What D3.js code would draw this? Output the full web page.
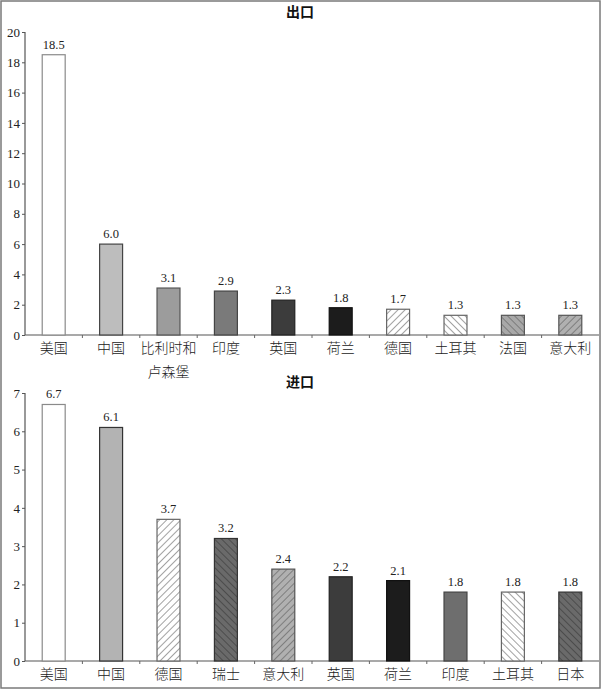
<!DOCTYPE html>
<html><head><meta charset="utf-8">
<script src="https://cdn.jsdelivr.net/npm/d3@7"></script>
<style>
html,body{margin:0;padding:0;background:#fff;}
svg{display:block;}
</style></head>
<body>
<svg id="c" width="602" height="690"></svg>
<script>
// ---- data ----
const exportTitle = "出口";
const exportCategories = ["美国","中国","比利时和卢森堡","印度","英国","荷兰","德国","土耳其","法国","意大利"];
const exportValues = [18.5, 6.0, 3.1, 2.9, 2.3, 1.8, 1.7, 1.3, 1.3, 1.3];
const exportTicks = [0,2,4,6,8,10,12,14,16,18,20];

const importTitle = "进口";
const importCategories = ["美国","中国","德国","瑞士","意大利","英国","荷兰","印度","土耳其","日本"];
const importValues = [6.7, 6.1, 3.7, 3.2, 2.4, 2.2, 2.1, 1.8, 1.8, 1.8];
const importTicks = [0,1,2,3,4,5,6,7];

// ---- styles ----
const SERIF = '"Liberation Serif","DejaVu Serif",serif';
const CJK = '"Noto Sans CJK SC","Noto Sans",sans-serif';
const exportFills = ["white","lightgray","midgray","darkgray","darker","black","hatchR","hatchL","hatchLgray","hatchRgray"];
const importFills = ["white","lightgray2","hatchR","hatchLdark","hatchRgray","darker","black","india","hatchL","hatchLdark"];

const svg = d3.select("#c");
const defs = svg.append("defs");
function hatch(id, bg, line, angle){
  const p = defs.append("pattern").attr("id", id).attr("patternUnits","userSpaceOnUse")
    .attr("width",5).attr("height",5).attr("patternTransform",`rotate(${angle})`);
  p.append("rect").attr("width",5).attr("height",5).attr("fill",bg);
  p.append("line").attr("x1",0).attr("y1",0).attr("x2",0).attr("y2",5)
    .attr("stroke",line).attr("stroke-width",1.1);
}
hatch("hR","#ffffff","#555",45);
hatch("hL","#ffffff","#555",-45);
hatch("hLg","#a8a8a8","#555",-45);
hatch("hRg","#b0b0b0","#555",45);
hatch("hLd","#6a6a6a","#333",-45);

const fillMap = {
  white:{fill:"#ffffff",stroke:"#8a8a8a"},
  lightgray:{fill:"#bdbdbd",stroke:"#444"},
  lightgray2:{fill:"#b3b3b3",stroke:"#333"},
  midgray:{fill:"#9c9c9c",stroke:"#555"},
  darkgray:{fill:"#7a7a7a",stroke:"#444"},
  india:{fill:"#6e6e6e",stroke:"#444"},
  darker:{fill:"#3c3c3c",stroke:"#222"},
  black:{fill:"#1c1c1c",stroke:"#111"},
  hatchR:{fill:"url(#hR)",stroke:"#666"},
  hatchL:{fill:"url(#hL)",stroke:"#666"},
  hatchLgray:{fill:"url(#hLg)",stroke:"#555"},
  hatchRgray:{fill:"url(#hRg)",stroke:"#555"},
  hatchLdark:{fill:"url(#hLd)",stroke:"#333"}
};

// frame
svg.append("rect").attr("x",1).attr("y",1).attr("width",599).attr("height",687)
  .attr("fill","none").attr("stroke","#7a7a7a").attr("stroke-width",1.5);

function drawChart(cfg){
  const {title, cats, vals, ticks, fills, top, bottom, titleY, labelY} = cfg;
  const x = d3.scaleBand().domain(cats).range([25,599]).paddingInner(0.6).paddingOuter(0.3);
  const y = d3.scaleLinear().domain([0, d3.max(ticks)]).range([bottom, top]);
  const g = svg.append("g");

  g.append("text").attr("x",300).attr("y",titleY).attr("font-family",CJK)
    .attr("text-anchor","middle").attr("font-size",14).attr("font-weight","bold")
    .attr("fill","#111").text(title);

  // y axis
  const ya = g.append("g").attr("transform","translate(25,0)")
    .call(d3.axisLeft(y).tickValues(ticks).tickSize(3).tickPadding(2).tickFormat(d3.format("d")));
  ya.attr("font-family",SERIF).attr("font-size",13);
  ya.select(".domain").attr("stroke","#555").attr("stroke-width",1.2).attr("d",`M0,${top}V${bottom}`);
  ya.selectAll(".tick line").attr("stroke","#555");
  ya.selectAll(".tick text").attr("fill","#222");

  // x axis baseline
  g.append("line").attr("x1",25).attr("x2",599).attr("y1",bottom).attr("y2",bottom)
    .attr("stroke","#555").attr("stroke-width",1.2);
  const step = x.step();
  const bounds = cats.map((c)=> x(c) - (step - x.bandwidth())/2).slice(1);
  g.selectAll("line.xt").data(bounds).join("line").attr("class","xt")
    .attr("x1",d=>d).attr("x2",d=>d).attr("y1",bottom).attr("y2",bottom+3)
    .attr("stroke","#666");

  // bars
  g.selectAll("rect.bar").data(vals).join("rect").attr("class","bar")
    .attr("x",(d,i)=>x(cats[i])).attr("width",x.bandwidth())
    .attr("y",d=>y(d)).attr("height",d=>bottom - y(d))
    .attr("fill",(d,i)=>fillMap[fills[i]].fill)
    .attr("stroke",(d,i)=>fillMap[fills[i]].stroke).attr("stroke-width",1.2);

  // value labels
  g.selectAll("text.val").data(vals).join("text").attr("class","val")
    .attr("font-family",SERIF)
    .attr("x",(d,i)=>x(cats[i])+x.bandwidth()/2).attr("y",d=>y(d)-6)
    .attr("text-anchor","middle").attr("font-size",12.5).attr("fill","#222")
    .text(d=>d.toFixed(1));

  // category labels
  cats.forEach((c,i)=>{
    const lines = c.length > 4 ? [c.slice(0,4), c.slice(4)] : [c];
    lines.forEach((ln,j)=>{
      g.append("text").attr("font-family",CJK)
        .attr("x",x(c)+x.bandwidth()/2).attr("y",labelY + j*24)
        .attr("text-anchor","middle").attr("font-size",14).attr("font-weight",300)
        .attr("fill","#222").text(ln);
    });
  });
}

drawChart({title:exportTitle,cats:exportCategories,vals:exportValues,ticks:exportTicks,
  fills:exportFills,top:32,bottom:335,titleY:17,labelY:353});
drawChart({title:importTitle,cats:importCategories,vals:importValues,ticks:importTicks,
  fills:importFills,top:393,bottom:661,titleY:387,labelY:679});
</script>
</body></html>
